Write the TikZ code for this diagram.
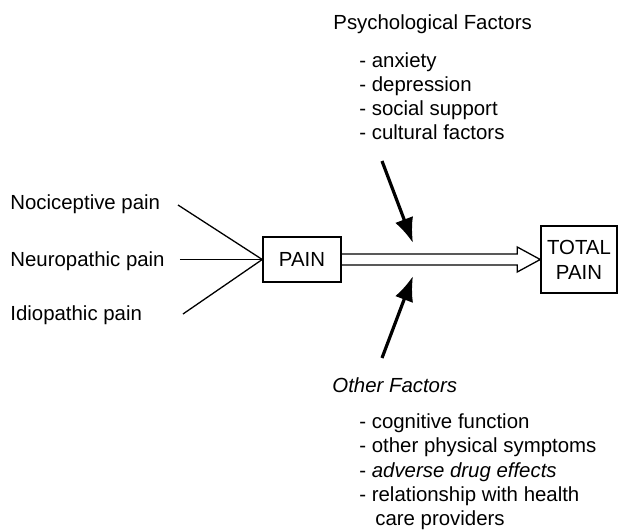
\documentclass[tikz,border=0pt]{standalone}
\usepackage{fontspec}
\setmainfont{Liberation Sans}
\usetikzlibrary{arrows.meta,calc}
\begin{document}
\begin{tikzpicture}[x=0.5pt,y=-0.5pt,
  txt/.style={anchor=base west,inner sep=0pt,font=\fontsize{10.2}{12}\selectfont},
  box/.style={draw,line width=0.75pt,inner sep=0pt,align=center,font=\fontsize{10.2}{11.5}\selectfont},
  thin/.style={line width=0.65pt},
  heavy/.style={line width=1.6pt,-{Latex[length=12.5pt,width=9.5pt]}}]
\useasboundingbox (0,0) rectangle (618,531);
% left labels
\node[txt] (noc) at (10,209) {Nociceptive pain};
\node[txt] (neu) at (10,266.5) {Neuropathic pain};
\node[txt] (idi) at (10,320) {Idiopathic pain};
% boxes
\node[box,minimum width=39pt,minimum height=22.5pt] (pain) at (302,259.5) {PAIN};
\node[box,minimum width=38pt,minimum height=33.5pt] (total) at (579,259.5) {TOTAL\\[1pt]PAIN};
% converging lines
\coordinate (join) at (pain.west);
\coordinate (nocend) at (178,205);
\coordinate (neuend) at (180,259.5);
\coordinate (idiend) at (183,314);
\draw[thin] (nocend) -- (join);
\draw[thin] (neuend) -- (join);
\draw[thin] (idiend) -- (join);
% double open arrow
\draw[thin,line join=miter]
  ($(pain.east)+(0,-5.5)$) -- ($(total.west)+(-23,-5.5)$) -- ($(total.west)+(-23,-12.5)$)
  -- (total.west) -- ($(total.west)+(-23,12.5)$) -- ($(total.west)+(-23,5.5)$)
  -- ($(pain.east)+(0,5.5)$);
% psychological factors
\node[txt] (psy) at (333,29.5) {Psychological Factors};
\node[txt] (p1) at (359,67.5) {- anxiety};
\node[txt] (p2) at (359,91.5) {- depression};
\node[txt] (p3) at (359,115.5) {- social support};
\node[txt] (p4) at (359,139.5) {- cultural factors};
% other factors
\node[txt] (oth) at (332,392) {\itshape Other Factors};
\node[txt] (o1) at (359,428.5) {- cognitive function};
\node[txt] (o2) at (359,452.8) {- other physical symptoms};
\node[txt] (o3) at (359,477) {- \itshape adverse drug effects};
\node[txt] (o4) at (359,501.3) {- relationship with health};
\node[txt] (o5) at (375,525.6) {care providers};
% heavy arrows
\coordinate (ptail) at (382,161);
\coordinate (ptip) at (413,243);
\coordinate (otail) at (382,358);
\coordinate (otip) at (413,276);
\draw[heavy] (ptail) -- (ptip);
\draw[heavy] (otail) -- (otip);
\end{tikzpicture}
\end{document}
